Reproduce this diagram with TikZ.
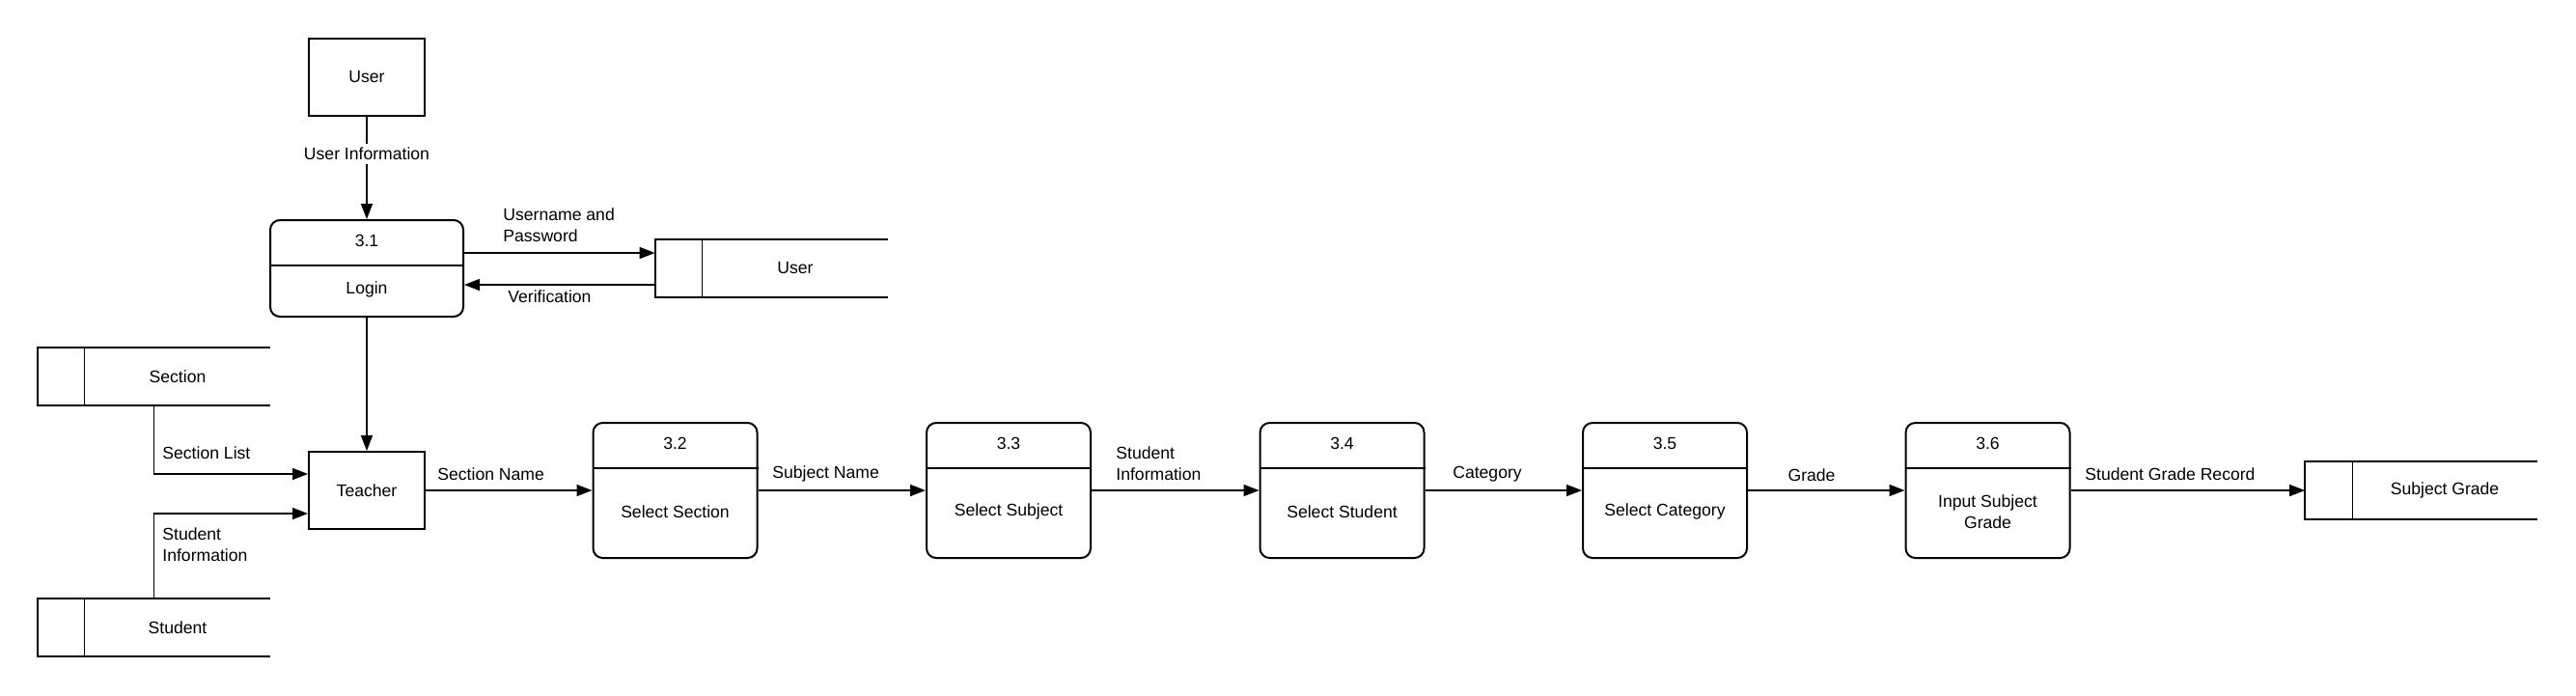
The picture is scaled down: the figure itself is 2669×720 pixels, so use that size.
\documentclass[tikz,border=0pt]{standalone}
\usepackage{fontspec}
\setmainfont{Liberation Sans}
\usetikzlibrary{arrows.meta}
\newcommand\drawstore[1]{%
  \draw[line width=1pt] (#1.north east) -- (#1.north west) -- (#1.south west) -- (#1.south east);
  \draw[line width=0.6pt] ([xshift=24.5pt]#1.north west) -- ([xshift=24.5pt]#1.south west);}
\begin{document}
\begin{tikzpicture}[x=0.5pt,y=-0.5pt,
  font=\fontsize{8.8}{11}\selectfont,
  entity/.style={draw, line width=1pt, minimum width=60pt, minimum height=40pt, inner sep=0pt},
  proc/.style={draw, line width=1pt, rounded corners=5pt, minimum width=85pt, minimum height=70pt, inner sep=0pt},
  loginproc/.style={draw, line width=1pt, rounded corners=5pt, minimum width=100pt, minimum height=50pt, inner sep=0pt},
  storebox/.style={minimum width=120.5pt, minimum height=30pt, inner sep=0pt},
  flow/.style={line width=0.8pt, -{Triangle[length=8pt,width=6pt]}},
  lbl/.style={inner sep=0pt, align=left},
  txt/.style={inner sep=0pt, align=center}]
\useasboundingbox (0,0) rectangle (2669,720);

% entities
\node[entity] (user) at (380,80) {User};
\node[entity] (teacher) at (380,508) {Teacher};

% login process
\node[loginproc] (login) at (380,278) {};
\draw[line width=1pt] ([yshift=-24pt]login.north west) -- ([yshift=-24pt]login.north east);
\node[txt] (loginnum) at ([yshift=-11pt]login.north) {3.1};
\node[txt] (logintxt) at ([yshift=-11pt]login.center) {Login};

% processes
\foreach \nm/\cx/\num/\lab in {p32/699.5/3.2/Select Section, p33/1045/3.3/Select Subject, p34/1390.5/3.4/Select Student, p35/1725/3.5/Select Category, p36/2059.5/3.6/{Input Subject\\Grade}}{
  \node[proc] (\nm) at (\cx,508) {};
  \draw[line width=1pt] ([yshift=-24pt]\nm.north west) -- ([yshift=-24pt]\nm.north east);
  \node[txt] (\nm num) at ([yshift=-11pt]\nm.north) {\num};
  \node[txt] (\nm txt) at ([yshift=-11pt]\nm.center) {\lab};
}

% data stores
\node[storebox] (ustore) at (799.5,278) {};
\drawstore{ustore}
\node[txt] (ustoret) at ([xshift=12.25pt]ustore.center) {User};
\node[storebox] (secstore) at (159.5,390) {};
\drawstore{secstore}
\node[txt] (secstoret) at ([xshift=12.25pt]secstore.center) {Section};
\node[storebox] (stustore) at (159.5,650) {};
\drawstore{stustore}
\node[txt] (stustoret) at ([xshift=12.25pt]stustore.center) {Student};
\node[storebox, minimum width=120pt] (sgstore) at (2508.5,508) {};
\drawstore{sgstore}
\node[txt] (sgstoret) at ([xshift=12.25pt]sgstore.center) {Subject Grade};

% flows
\draw[flow] (user.south) -- node[pos=0.36, fill=white, inner sep=2pt] (uinfo) {User Information} (login.north);
\draw[flow] ([yshift=8pt]login.east) -- ([yshift=8pt]ustore.west);
\draw[flow] ([yshift=-8.5pt]ustore.west) -- ([yshift=-8.5pt]login.east);
\draw[flow] (login.south) -- (teacher.north);
\draw[flow] (secstore.south) |- ([yshift=8.5pt]teacher.west);
\draw[flow] (stustore.north) |- ([yshift=-12pt]teacher.west);
\draw[flow] (teacher.east) -- (p32.west);
\draw[flow] (p32.east) -- (p33.west);
\draw[flow] (p33.east) -- (p34.west);
\draw[flow] (p34.east) -- (p35.west);
\draw[flow] (p35.east) -- (p36.west);
\draw[flow] (p36.east) -- (sgstore.west);

% flow labels
\node[lbl, anchor=west] (lup) at (521,233.5) {Username and\\Password};
\node[lbl, anchor=west] (lver) at (526,307) {Verification};
\node[lbl, anchor=west] (lsl) at (168,469) {Section List};
\node[lbl, anchor=west] (lsi) at (168,564) {Student\\Information};
\node[lbl, anchor=west] (lsn) at (453,491) {Section Name};
\node[lbl, anchor=west] (lsub) at (800,491) {Subject Name};
\node[lbl, anchor=west] (lsi2) at (1156,480) {Student\\Information};
\node[lbl] (lcat) at (1541,491) {Category};
\node[lbl] (lgr) at (1877,492) {Grade};
\node[lbl, anchor=west] (lsgr) at (2160,491) {Student Grade Record};
\end{tikzpicture}
\end{document}
